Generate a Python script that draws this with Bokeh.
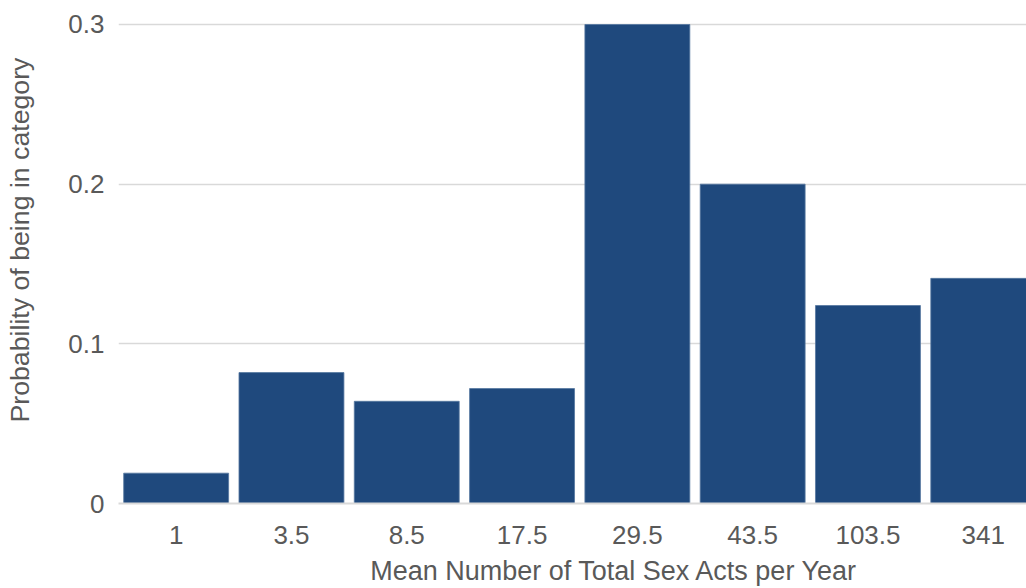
from bokeh.plotting import figure
from bokeh.models import Range1d, FixedTicker, ColumnDataSource, LinearAxis
from bokeh.embed import file_html
from bokeh.resources import INLINE

categories = ["1", "3.5", "8.5", "17.5", "29.5", "43.5", "103.5", "341"]
probabilities = [0.019, 0.082, 0.064, 0.072, 0.300, 0.200, 0.124, 0.141]
y_ticks = [0, 0.1, 0.2, 0.3]
y_tick_labels = ["0", "0.1", "0.2", "0.3"]
x_title = "Mean Number of Total Sex Acts per Year"
y_title = "Probability of being in category"

idx = list(range(len(categories)))
src = ColumnDataSource(dict(x=idx, top=probabilities, cat=categories))

FONT = "Liberation Sans"
TXT = "#595959"

p = figure(width=1026, height=588, output_backend="svg", toolbar_location=None,
           x_range=Range1d(-0.5, 7.375), y_range=Range1d(0, 0.3025),
           min_border_left=118, min_border_right=0, min_border_top=20,
           min_border_bottom=84)
p.outline_line_color = None
p.background_fill_color = "white"
p.border_fill_color = "white"

p.vbar(x="x", top="top", width=0.91, source=src, fill_color="#1f497d",
       line_color="#5677a0", line_width=0.8)

# x axis
p.xaxis.ticker = FixedTicker(ticks=idx)
p.xaxis.major_label_overrides = {i: c for i, c in zip(idx, categories)}
p.xaxis.axis_line_color = "#d9d9d9"
p.xaxis.axis_line_width = 2
p.xaxis.major_tick_line_color = None
p.xaxis.minor_tick_line_color = None
p.xaxis.major_label_standoff = 16

# y axis
p.yaxis.ticker = FixedTicker(ticks=y_ticks)
p.yaxis.major_label_overrides = {t: l for t, l in zip(y_ticks, y_tick_labels)}
p.yaxis.axis_line_color = None
p.yaxis.major_tick_line_color = None
p.yaxis.minor_tick_line_color = None
p.yaxis.major_label_standoff = 8

for ax in (p.xaxis, p.yaxis):
    ax.major_label_text_font = FONT
    ax.major_label_text_font_size = "26px"
    ax.major_label_text_color = TXT

# Axis titles: the original chart's plot area runs past the cropped edges,
# so its titles sit off the visible centre; place each one as a single
# label on an extra, otherwise invisible axis.
x_title_pos = 3.8     # in category-index units
y_title_pos = 0.165   # in probability units

xt = LinearAxis(ticker=FixedTicker(ticks=[x_title_pos]),
                major_label_overrides={x_title_pos: x_title},
                axis_line_color=None, major_tick_line_color=None,
                minor_tick_line_color=None, major_tick_out=0, major_tick_in=0,
                major_label_standoff=9, major_label_text_font=FONT,
                major_label_text_font_size="27px", major_label_text_color=TXT)
p.add_layout(xt, "below")

yt = LinearAxis(ticker=FixedTicker(ticks=[y_title_pos]),
                major_label_overrides={y_title_pos: y_title},
                major_label_orientation="vertical",
                axis_line_color=None, major_tick_line_color=None,
                minor_tick_line_color=None, major_tick_out=0, major_tick_in=0,
                major_label_standoff=30, major_label_text_font=FONT,
                major_label_text_font_size="26.7px", major_label_text_color=TXT)
p.add_layout(yt, "left")

p.xgrid.grid_line_color = None
p.ygrid.ticker = FixedTicker(ticks=y_ticks)
p.ygrid.grid_line_color = "#d9d9d9"
p.ygrid.grid_line_width = 1.5

open("out.html", "w").write(file_html(p, INLINE))
